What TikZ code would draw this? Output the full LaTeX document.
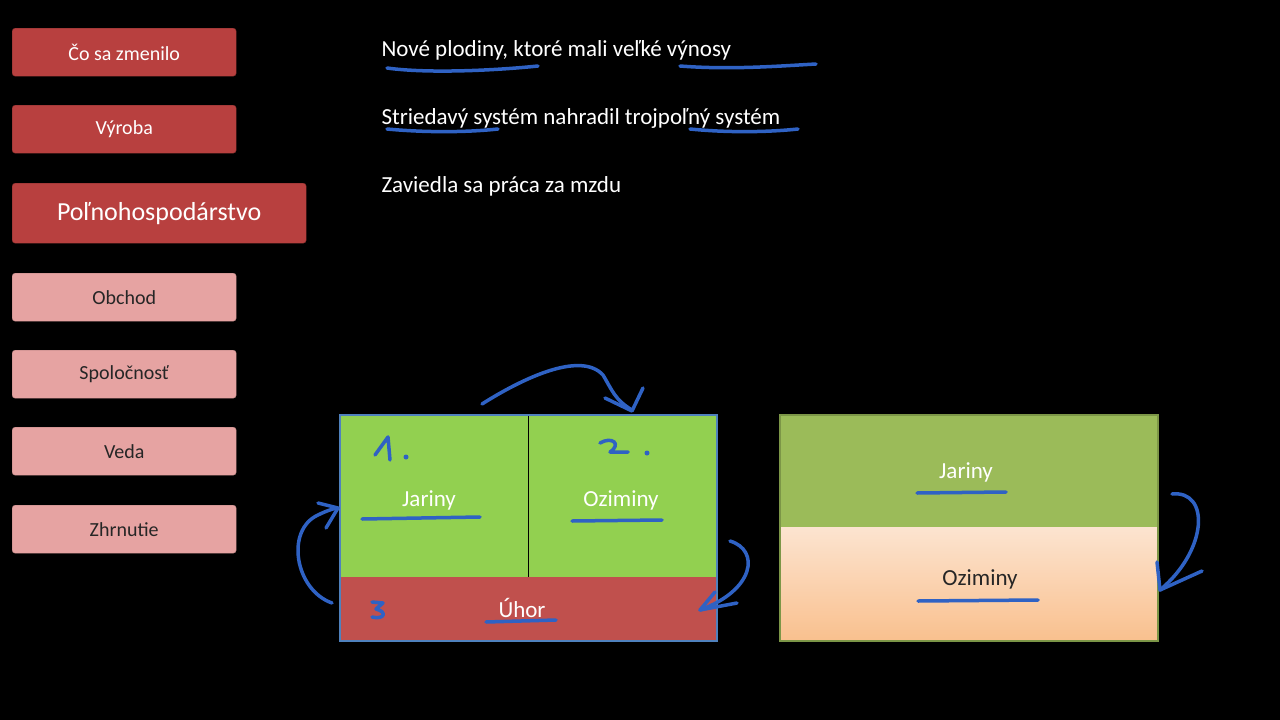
\documentclass[tikz,border=0pt]{standalone}
\usepackage{fontspec}
\setmainfont{Carlito}
\usetikzlibrary{arrows.meta}
\definecolor{btndark}{HTML}{B8403F}
\definecolor{btnlight}{HTML}{E6A3A2}
\definecolor{fieldgreen}{HTML}{92D050}
\definecolor{fieldolive}{HTML}{9BBB59}
\definecolor{fieldred}{HTML}{C0504D}
\definecolor{peachtop}{HTML}{FCE4D0}
\definecolor{peachbot}{HTML}{F9C08E}
\definecolor{pen}{HTML}{2F62C4}
\definecolor{edge}{HTML}{4F81BD}
\tikzset{
  btn/.style={rounded corners=3pt, minimum height=48pt, inner sep=0pt, anchor=north west,
    font=\fontsize{20}{24}\selectfont, drop shadow/.try},
  dark/.style={btn, fill=btndark, draw=btndark!70!black, text=white},
  light/.style={btn, fill=btnlight, draw=btnlight!80!black, text=black!85},
  line/.style={anchor=west, text=white, font=\fontsize{23}{27}\selectfont},
  lab/.style={font=\fontsize{23}{27}\selectfont},
  ink/.style={pen, line width=3.5pt, line cap=round, line join=round},
}
\begin{document}
\begin{tikzpicture}[x=1pt, y=-1pt]
  \fill[black] (0,0) rectangle (1280,720);
  \useasboundingbox (0,0) rectangle (1280,720);

  % menu
  \node[dark, minimum width=224pt] (zmena) at (12,28) {Čo sa zmenilo};
  \node[dark, minimum width=224pt] (vyroba) at (12,105) {Výroba};
  \node[dark, minimum width=294pt, minimum height=60pt, font=\fontsize{26}{30}\selectfont] (polno) at (12,183) {Poľnohospodárstvo};
  \node[light, minimum width=224pt] (obchod) at (12,273) {Obchod};
  \node[light, minimum width=224pt] (spol) at (12,350) {Spoločnosť};
  \node[light, minimum width=224pt] (veda) at (12,427) {Veda};
  \node[light, minimum width=224pt] (zhrn) at (12,505) {Zhrnutie};

  % text
  \node[line] (t1) at (378,50) {Nové plodiny, ktoré mali veľké výnosy};
  \node[line] (t2) at (378,118) {Striedavý systém nahradil trojpoľný systém};
  \node[line] (t3) at (378,186) {Zaviedla sa práca za mzdu};
  \draw[ink] (387,68) .. controls (430,74) and (500,70) .. (538,66);
  \draw[ink] (680,66) .. controls (730,70) and (780,66) .. (816,64);
  \draw[ink] (387,129) .. controls (430,133) and (470,132) .. (498,129);
  \draw[ink] (690,129) .. controls (730,133) and (770,132) .. (798,129);

  % three fields
  \fill[fieldgreen] (340,415) rectangle (717,577);
  \fill[fieldred] (340,577) rectangle (717,641);
  \draw[black] (528,415) -- (528,577);
  \draw[edge, line width=1.5pt] (340,415) rectangle (717,641);
  \node[lab, text=white] (jar1) at (429,500) {Jariny};
  \node[lab, text=white] (ozi1) at (621,500) {Oziminy};
  \node[lab, text=white] (uhor) at (522,608) {Úhor};

  % two fields
  \fill[fieldolive] (780,415) rectangle (1158,527);
  \shade[top color=peachtop, bottom color=peachbot] (780,527) rectangle (1158,641);
  \draw[fieldolive!80!black, line width=1.5pt] (780,415) rectangle (1158,641);
  \node[lab, text=white] (jar2) at (966,472) {Jariny};
  \node[lab, text=black!85] (ozi2) at (980,579) {Oziminy};

  % pen strokes
  \draw[ink] (362,519) -- (480,517);
  \draw[ink] (572,521) -- (662,520);
  \draw[ink] (486,622) -- (556,620);
  \draw[ink] (917,493) -- (1006,492);
  \draw[ink] (918,601) -- (1038,600);
  \draw[ink] (375,455) -- (388,437) -- (390,460);
  \fill[pen] (406,457) circle (2.5pt);
  \draw[ink] (600,443) .. controls (612,436) and (622,444) .. (610,452) -- (628,452);
  \fill[pen] (647,453) circle (2.5pt);
  \draw[ink] (372,602) -- (383,603) -- (376,609) .. controls (388,612) and (384,620) .. (372,617);
  \draw[ink] (482,404) .. controls (520,380) and (580,350) .. (603,375) .. controls (612,390) and (615,400) .. (632,410);
  \draw[ink] (605,398) -- (632,411) -- (643,388);
  \draw[ink] (332,603) .. controls (295,590) and (285,530) .. (318,515) .. controls (328,510) and (336,508) .. (337,508);
  \draw[ink] (318,503) -- (338,508) -- (326,528);
  \draw[ink] (730,541) .. controls (760,550) and (755,590) .. (700,610);
  \draw[ink] (715,592) -- (700,610) -- (737,603);
  \draw[ink] (1172,494) .. controls (1210,490) and (1208,550) .. (1160,590);
  \draw[ink] (1157,562) -- (1160,590) -- (1202,571);
\end{tikzpicture}
\end{document}
